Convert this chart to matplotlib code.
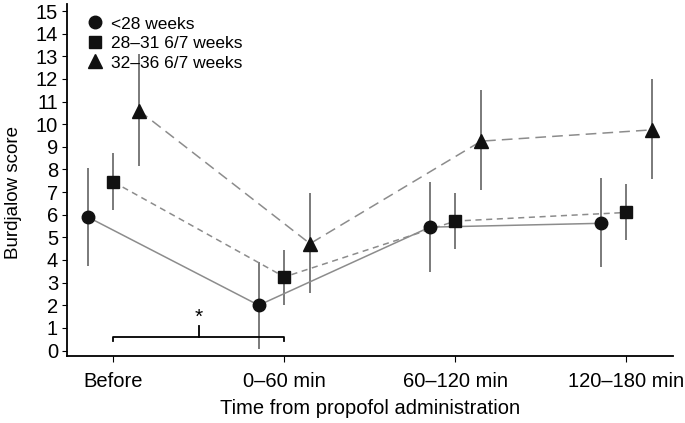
import numpy as np
import matplotlib
matplotlib.use('Agg')
import matplotlib.pyplot as plt

plt.rcParams['font.family'] = ['Liberation Sans', 'DejaVu Sans']

times = ['Before', '0\u201360 min', '60\u2013120 min', '120\u2013180 min']
groups = ['<28 weeks', '28\u201331 6/7 weeks', '32\u201336 6/7 weeks']

# mean and error bar ends (low, high)
lt28_mean = [5.9, 2.0, 5.45, 5.62]
lt28_lo = [3.72, 0.05, 3.45, 3.68]
lt28_hi = [8.05, 3.92, 7.45, 7.62]

w28_mean = [7.45, 3.25, 5.72, 6.1]
w28_lo = [6.2, 2.0, 4.5, 4.9]
w28_hi = [8.72, 4.45, 6.95, 7.35]

w32_mean = [10.6, 4.72, 9.25, 9.75]
w32_lo = [8.15, 2.55, 7.1, 7.6]
w32_hi = [13.1, 6.95, 11.5, 12.0]

gray = '#8c8c8c'
x = np.arange(len(times))

fig = plt.figure(figsize=(6.85, 4.23), dpi=100)
ax = fig.add_axes([0.098, 0.158, 0.884, 0.832])

series = [
    (lt28_mean, lt28_lo, lt28_hi, -0.15, 'o', '-', groups[0], 9),
    (w28_mean, w28_lo, w28_hi, 0.0, 's', (0, (4, 3)), groups[1], 8.5),
    (w32_mean, w32_lo, w32_hi, 0.15, '^', (0, (7, 4)), groups[2], 9.5),
]
for mean, lo, hi, off, mk, ls, lab, ms in series:
    xs = x + off
    ax.vlines(xs, lo, hi, color='#707070', lw=1.3, zorder=2)
    ax.plot(xs, mean, color=gray, ls=ls, lw=1.1, zorder=3)
    ax.plot(xs, mean, ls='none', marker=mk, ms=ms, color='#111111',
            zorder=4, label=lab)

# significance bracket between Before and 0-60 min
ax.plot([0, 0, 1, 1], [0.4, 0.6, 0.6, 0.4], color='black', lw=1.3)
ax.plot([0.5, 0.5], [0.6, 1.08], color='black', lw=1.3)
ax.text(0.5, 1.05, '*', ha='center', va='bottom', fontsize=15)

ax.set_xlim(-0.27, 3.27)
ax.set_ylim(-0.25, 15.3)
ax.set_yticks(range(0, 16))
ax.set_xticks(x)
ax.set_xticklabels(times)
ax.tick_params(axis='y', labelsize=14.5, length=3.5, pad=3)
ax.tick_params(axis='x', labelsize=14.5, length=4.5, pad=7)
ax.spines['top'].set_visible(False)
ax.spines['right'].set_visible(False)
ax.spines['left'].set_linewidth(1.3)
ax.spines['bottom'].set_linewidth(1.3)
ax.set_xlabel('Time from propofol administration', fontsize=14.5, labelpad=6)
ax.set_ylabel('Burdjalow score', fontsize=13.5)
ax.yaxis.set_label_coords(-0.075, 0.465)

ax.legend(loc='upper left', frameon=False, fontsize=12.5,
          handlelength=1.0, handletextpad=0.4, labelspacing=0.25,
          borderaxespad=0.3, bbox_to_anchor=(0.012, 1.0))

fig.savefig('out.png', dpi=100)
